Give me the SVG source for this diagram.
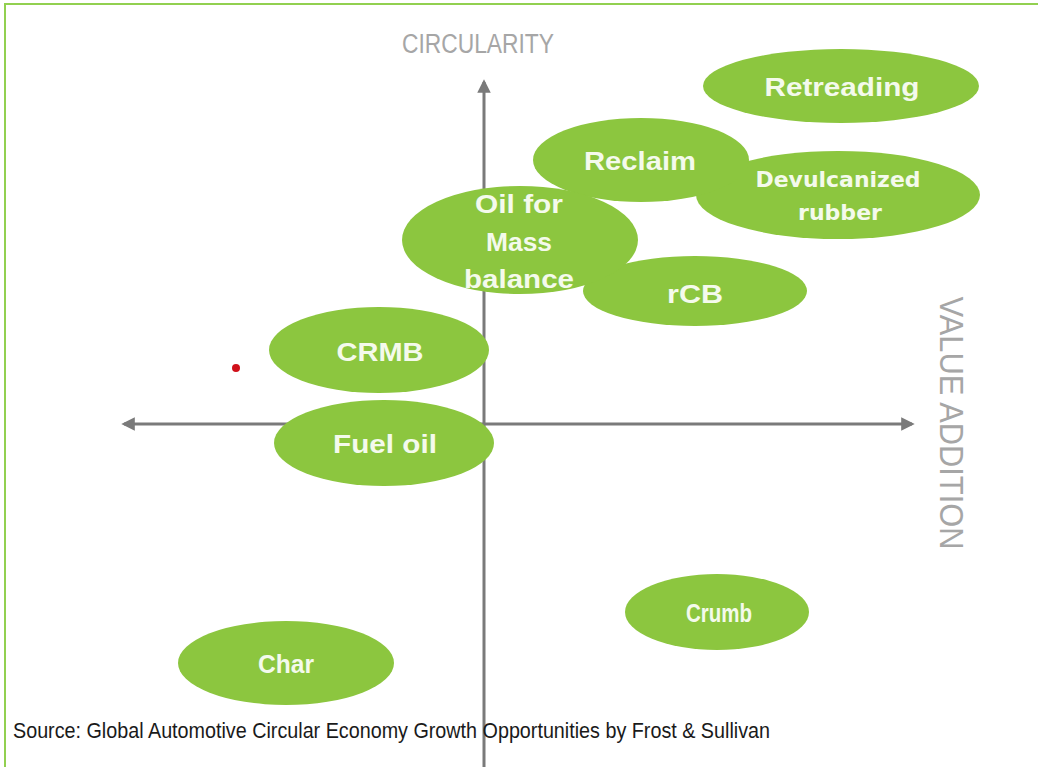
<svg xmlns="http://www.w3.org/2000/svg" width="1038" height="767" viewBox="0 0 1038 767">
<defs>
<style>
.node{fill:#8cc63f;}
.lbl{fill:#f4faec;font-family:"Liberation Sans",Arial,sans-serif;font-weight:bold;font-size:26px;text-anchor:middle;}
.lbl2{fill:#f4faec;font-family:"DejaVu Sans",sans-serif;font-weight:bold;font-size:21px;text-anchor:middle;}
.axis{stroke:#7a7a7a;stroke-width:3;fill:none;}
.axlbl{fill:#a6a6a6;font-family:"Liberation Sans",Arial,sans-serif;text-anchor:middle;}
</style>
<marker id="ah" viewBox="0 0 10 10" refX="8" refY="5" markerWidth="4.5" markerHeight="4.5" orient="auto-start-reverse" markerUnits="strokeWidth">
<path d="M0,0 L10,5 L0,10 z" fill="#7a7a7a"/>
</marker>
</defs>
<rect width="1038" height="767" fill="#ffffff"/>
<polyline points="5,767 5,4 1038,4" fill="none" stroke="#92d050" stroke-width="2"/>
<g id="connectors">
<line class="axis" x1="484" y1="767" x2="484" y2="82" marker-end="url(#ah)"/>
<line class="axis" x1="124" y1="424" x2="912" y2="424" marker-start="url(#ah)" marker-end="url(#ah)"/>
</g>
<text class="axlbl" x="478" y="53" font-size="27" textLength="152" lengthAdjust="spacingAndGlyphs">CIRCULARITY</text>
<text class="axlbl" transform="translate(940,423) rotate(90)" x="0" y="0" font-size="33" textLength="253" lengthAdjust="spacingAndGlyphs">VALUE ADDITION</text>
<circle cx="236" cy="368" r="4" fill="#d0101a"/>
<g id="retreading"><ellipse class="node" cx="841" cy="86" rx="138" ry="37"/><text class="lbl" x="842" y="96" textLength="155" lengthAdjust="spacingAndGlyphs">Retreading</text></g>
<g id="devulcanized"><ellipse class="node" cx="838" cy="195" rx="142" ry="44"/><text class="lbl2" x="838" y="187" textLength="165" lengthAdjust="spacingAndGlyphs">Devulcanized</text><text class="lbl2" x="840" y="220" textLength="84" lengthAdjust="spacingAndGlyphs">rubber</text></g>
<g id="reclaim"><ellipse class="node" cx="641" cy="160" rx="108" ry="42"/><text class="lbl" x="640" y="170" textLength="112" lengthAdjust="spacingAndGlyphs">Reclaim</text></g>
<g id="rcb"><ellipse class="node" cx="695" cy="291" rx="112" ry="35"/><text class="lbl" x="695" y="303" textLength="56" lengthAdjust="spacingAndGlyphs">rCB</text></g>
<g id="oil-mass-balance"><ellipse class="node" cx="520" cy="240" rx="118" ry="54"/><text class="lbl" x="519" y="213" textLength="88" lengthAdjust="spacingAndGlyphs">Oil for</text><text class="lbl" x="519" y="251" textLength="66" lengthAdjust="spacingAndGlyphs">Mass</text><text class="lbl" x="519" y="288" textLength="110" lengthAdjust="spacingAndGlyphs">balance</text></g>
<g id="crmb"><ellipse class="node" cx="379" cy="350" rx="110" ry="43"/><text class="lbl" x="380" y="361" textLength="87" lengthAdjust="spacingAndGlyphs">CRMB</text></g>
<g id="fuel-oil"><ellipse class="node" cx="384" cy="443" rx="110" ry="43"/><text class="lbl" x="385" y="453" textLength="104" lengthAdjust="spacingAndGlyphs">Fuel oil</text></g>
<g id="crumb"><ellipse class="node" cx="717" cy="612" rx="92" ry="38"/><text class="lbl" x="719" y="622" textLength="66" lengthAdjust="spacingAndGlyphs">Crumb</text></g>
<g id="char"><ellipse class="node" cx="286" cy="663" rx="108" ry="42"/><text class="lbl" x="286" y="673" textLength="56" lengthAdjust="spacingAndGlyphs">Char</text></g>
<text x="13" y="738" font-family="Liberation Sans,Arial,sans-serif" font-size="22" fill="#1a1a1a" textLength="757" lengthAdjust="spacingAndGlyphs">Source: Global Automotive Circular Economy Growth Opportunities by Frost &amp; Sullivan</text>
</svg>
